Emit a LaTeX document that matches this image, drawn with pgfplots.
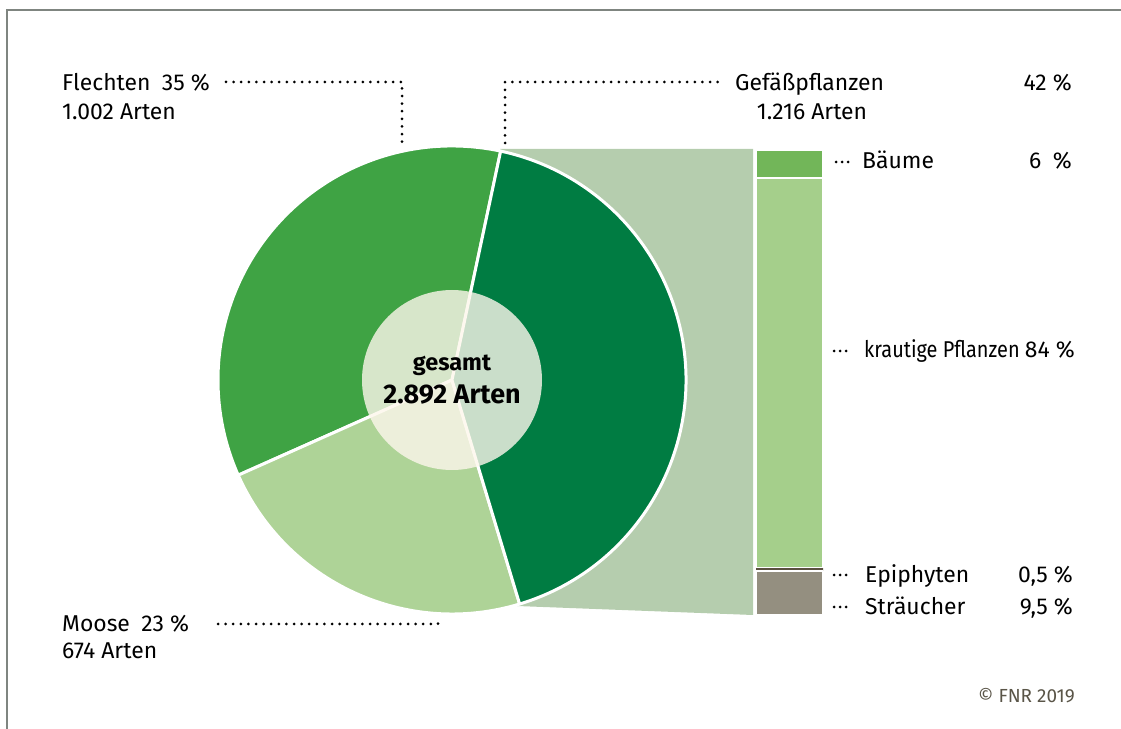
\documentclass[border=0pt]{standalone}
\usepackage{pgfplots}
\pgfplotsset{compat=1.18}
\usepackage{fontspec}
\setmainfont{Fira Sans}
\definecolor{cF}{HTML}{3FA344}
\definecolor{cM}{HTML}{AED397}
\definecolor{cG}{HTML}{007C42}
\definecolor{trap}{HTML}{B5CDAE}
\definecolor{cB}{HTML}{72B659}
\definecolor{cK}{HTML}{A5CF8B}
\definecolor{cE}{HTML}{5A5040}
\definecolor{cS}{HTML}{948F80}
\definecolor{frame}{HTML}{7F8580}
\definecolor{copy}{HTML}{5A5548}
\definecolor{inner}{HTML}{FDF7EC}
\newcommand\fs{\fontsize{23}{27}\selectfont}
\tikzset{dots/.style={line width=3bp, line cap=round, dash pattern=on 0pt off 7.6bp}}
% shares of the three groups (percent)
\def\pF{35}\def\pM{23}\def\pG{42}%
\pgfmathsetmacro\aA{78}%
\pgfmathsetmacro\aB{\aA+3.6*\pF}%
\pgfmathsetmacro\aC{\aB+3.6*\pM}%
\pgfmathsetmacro\aD{\aC+3.6*\pG}%
\begin{document}%
\begin{tikzpicture}
\begin{axis}[x=1bp, y=1bp, xmin=0, xmax=1121, ymin=0, ymax=729,
  hide axis, clip=false, at={(0,0)}, anchor=south west]
\draw[color=frame, line width=1.5bp] (axis cs:7,0) -- (axis cs:7,719) -- (axis cs:1121,719);
\addplot[fill=trap, draw=none] coordinates {(500,580) (753,580) (753,114) (517,123)} -- cycle;
\filldraw[fill=cF, draw=white, line width=3bp, line join=round] (axis cs:452,349) -- ++(\aA:234bp) arc[start angle=\aA, end angle=\aB, radius=234bp] -- cycle;
\filldraw[fill=cM, draw=white, line width=3bp, line join=round] (axis cs:452,349) -- ++(\aB:234bp) arc[start angle=\aB, end angle=\aC, radius=234bp] -- cycle;
\filldraw[fill=cG, draw=white, line width=3bp, line join=round] (axis cs:452,349) -- ++(\aC:234bp) arc[start angle=\aC, end angle=\aD, radius=234bp] -- cycle;
\fill[inner, opacity=0.8] (axis cs:452,349) circle[radius=90bp];
\node[anchor=base, font=\fontsize{23.5}{27}\selectfont\bfseries] at (axis cs:452,359) {gesamt};
\node[anchor=base, font=\fontsize{27}{30}\selectfont\bfseries] at (axis cs:452,326) {2.892 Arten};
% labels
\node[anchor=base west, font=\fs, inner sep=0pt] at (axis cs:62,638) {Flechten\enspace 35~\%};
\node[anchor=base west, font=\fs, inner sep=0pt] at (axis cs:62,609) {1.002 Arten};
\node[anchor=base west, font=\fs, inner sep=0pt] at (axis cs:62,98) {Moose\enspace 23~\%};
\node[anchor=base west, font=\fs, inner sep=0pt] at (axis cs:62,71) {674 Arten};
\node[anchor=base west, font=\fs, inner sep=0pt] at (axis cs:735,638) {Gefäßpflanzen};
\node[anchor=base east, font=\fs, inner sep=0pt] at (axis cs:1072,638) {42~\%};
\node[anchor=base, font=\fs, inner sep=0pt] at (axis cs:812,609) {1.216 Arten};
\node[anchor=base west, font=\fs, inner sep=0pt] at (axis cs:862,560) {Bäume};
\node[anchor=base east, font=\fs, inner sep=0pt] at (axis cs:1072,560) {6\enspace\%};
\node[anchor=base west, font=\fs, inner sep=0pt] at (axis cs:864,372) {\scalebox{0.87}[1]{krautige Pflanzen}};
\node[anchor=base east, font=\fs, inner sep=0pt] at (axis cs:1075,372) {84~\%};
\node[anchor=base west, font=\fs, inner sep=0pt] at (axis cs:865,147) {Epiphyten};
\node[anchor=base east, font=\fs, inner sep=0pt] at (axis cs:1073,147) {0,5~\%};
\node[anchor=base west, font=\fs, inner sep=0pt] at (axis cs:865,115) {Sträucher};
\node[anchor=base east, font=\fs, inner sep=0pt] at (axis cs:1073,115) {9,5~\%};
\node[anchor=base east, font=\fontsize{19}{22}\selectfont, text=copy, inner sep=0pt] at (axis cs:1075,27) {© FNR 2019};
% leader dots
\draw[dots] (axis cs:226,647) -- (axis cs:402,647) -- (axis cs:402,586);
\draw[dots] (axis cs:505,586) -- (axis cs:505,647) -- (axis cs:722,647);
\draw[dots] (axis cs:218,105) -- (axis cs:438,105) -- (axis cs:438,112);
\draw[dots, dash pattern=on 0pt off 6bp] (axis cs:836,567) -- (axis cs:849,567);
\draw[dots, dash pattern=on 0pt off 6bp] (axis cs:834,378) -- (axis cs:847,378);
\draw[dots, dash pattern=on 0pt off 6bp] (axis cs:834,154) -- (axis cs:847,154);
\draw[dots, dash pattern=on 0pt off 6bp] (axis cs:834,122) -- (axis cs:847,122);
\end{axis}
\begin{axis}[at={(756bp,114bp)}, anchor=south west, width=67bp, height=465bp,
  scale only axis, hide axis, xmin=-0.5, xmax=0.5, ymin=0, ymax=100,
  ybar stacked, bar width=67bp]
\addplot[fill=cS, draw=white, line width=2bp] coordinates {(0,9.5)};
\addplot[fill=cE, draw=cE, line width=1bp] coordinates {(0,0.5)};
\addplot[fill=cK, draw=white, line width=2bp] coordinates {(0,84)};
\addplot[fill=cB, draw=white, line width=2bp] coordinates {(0,6)};
\end{axis}
\pgfresetboundingbox
\useasboundingbox (0,0) rectangle (1121bp,729bp);
\end{tikzpicture}%
\end{document}
